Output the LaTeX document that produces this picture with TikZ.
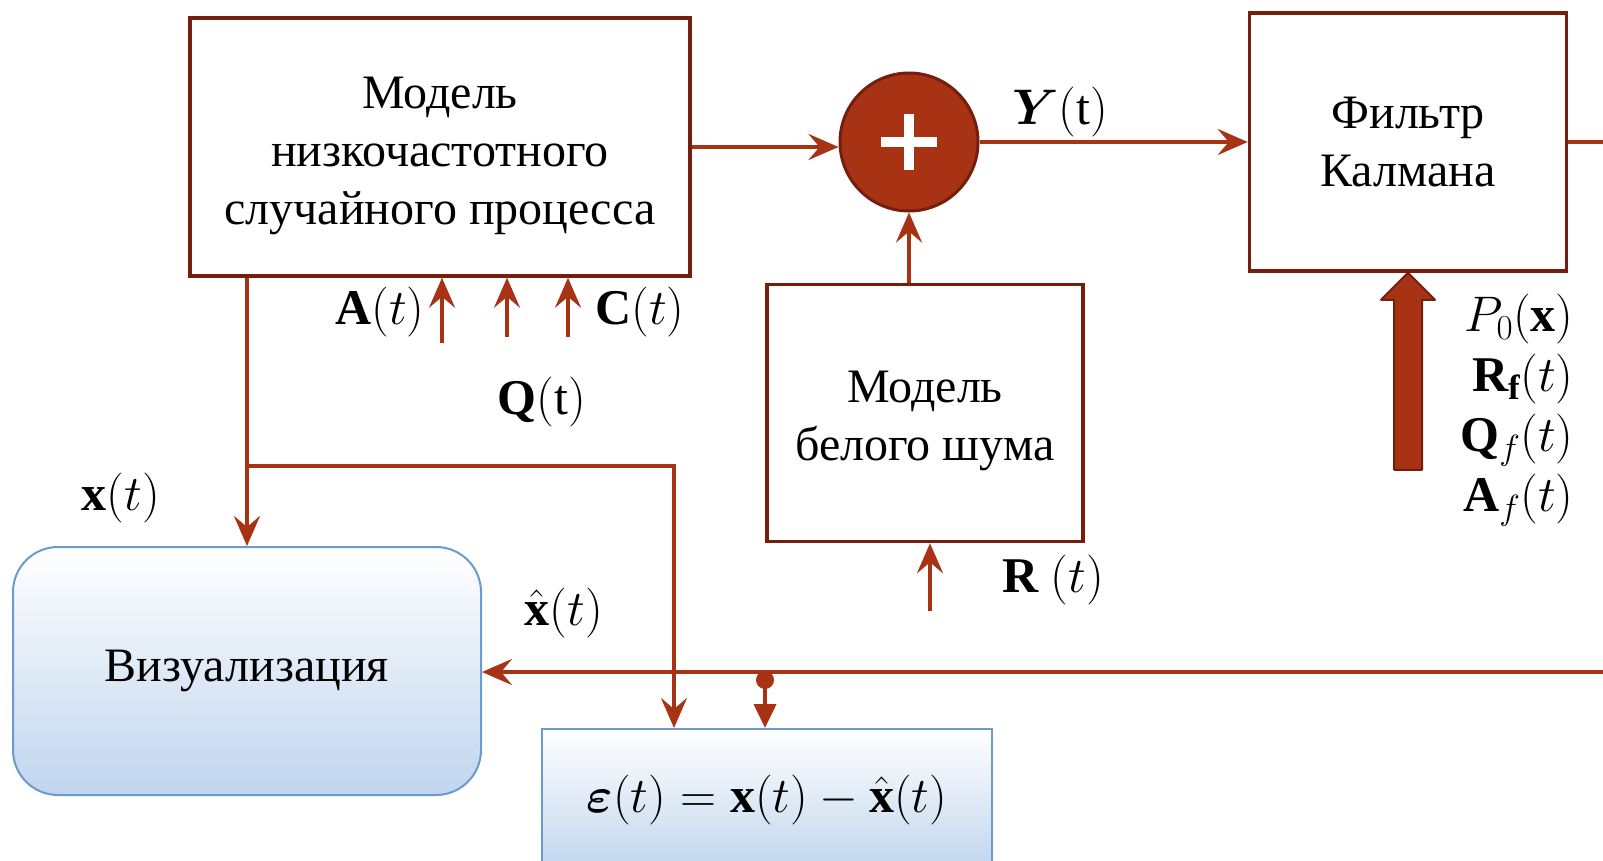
\RequirePackage{fix-cm}
\documentclass[tikz,border=0pt]{standalone}
\usepackage{fontspec}
\setmainfont{Liberation Serif}
\usepackage{amsmath,bm}
\usetikzlibrary{arrows.meta}

\definecolor{linered}{RGB}{168,50,20}
\definecolor{edgebrown}{RGB}{118,30,14}
\definecolor{panelblue}{RGB}{192,213,238}
\definecolor{paneledge}{RGB}{108,154,204}

\newcommand{\diagfont}{\fontsize{48}{58}\selectfont}
\newcommand{\sigfont}{\fontsize{50}{60}\selectfont}

\begin{document}
\begin{tikzpicture}[x=1pt, y=-1pt]

\useasboundingbox (0,0) rectangle (1603,861);
\clip (0,0) rectangle (1603,861);
\fill[white] (0,0) rectangle (1603,861);

\begin{scope}[every node/.style={draw=edgebrown,line width=3.5pt,fill=white,align=center,font=\diagfont,inner sep=0pt}]
    \node (proc) at (440, 147) [minimum width=500pt, minimum height=258pt] {\rule{0pt}{50pt}Модель\\низкочастотного\\случайного процесса};
    \node (kalman) at (1408, 142) [minimum width=317pt, minimum height=258pt] {Фильтр\\Калмана};
    \node (noise) at (925, 413) [minimum width=316pt, minimum height=257pt] {\rule{0pt}{48pt}Модель\\белого шума};
    \node (sum) at (909, 142) [shape=circle, fill=linered, minimum size=138pt, line width=3pt] {};
\end{scope}

\draw[white, line width=10pt] ([xshift=-28pt]sum.center) -- ([xshift=28pt]sum.center)
    ([yshift=-28pt]sum.center) -- ([yshift=28pt]sum.center);

\begin{scope}[every node/.style={draw=paneledge,line width=2pt,top color=white,bottom color=panelblue,align=center,inner sep=0pt}]
    \node (vis) at (247, 671) [rounded corners=45pt, minimum width=468pt, minimum height=248pt, font=\diagfont] {Визуализация};
    \node (eps) at (767, 800) [minimum width=450pt, minimum height=142pt, font=\sigfont] {$\bm{\varepsilon}(t)=\mathbf{x}(t)-\hat{\mathbf{x}}(t)$};
\end{scope}

\begin{scope}[>={Stealth[length=30pt,width=26pt,inset=11pt]},
              every edge/.style={draw=linered,line width=4pt},
              wire/.style={draw=linered,line width=4pt},
              every node/.style={font=\sigfont}]
    \path [->] (proc.east) edge node {} (proc.east -| sum.west);
    \path [->] (sum.east) edge node[pos=0.3, above, inner sep=3pt] {$\bm{Y}(\mathrm{t})$} (kalman.west);
    \path [->] (noise.north -| sum.south) edge node {} (sum.south);

    \coordinate (k-out) at (1603, 142);
    \path (kalman.east) edge (k-out);

    \foreach \pin/\px/\py in {a/442/343, q/507/337, c/568/337} {
        \coordinate (\pin-in) at (\px, \py);
        \path [->] (\pin-in) edge (\pin-in |- proc.south);
    }
    \node (a-label) at (380, 312) {$\mathbf{A}(t)$};
    \node (q-label) at (542, 402) {$\mathbf{Q}(\mathrm{t})$};
    \node (c-label) at (640, 312) {$\mathbf{C}(t)$};

    \coordinate (r-in) at (930, 611);
    \path [->] (r-in) edge (r-in |- noise.south);
    \node (r-label) at (1053, 580) {$\mathbf{R}\ (t)$};

    \coordinate (x-split) at (247, 466);
    \coordinate (x-turn) at (674, 466);
    \path [->] (x-split |- proc.south) edge (vis.north);
    \draw [wire, ->] (x-split) -- (x-turn) -- (x-turn |- eps.north);
    \node (x-label) at (121, 498) {$\mathbf{x}(t)$};

    \coordinate (fb-in) at (1603, 672);
    \path [->] (fb-in) edge (fb-in -| vis.east);
    \node (xhat-label) at (564, 613) {$\hat{\mathbf{x}}(t)$};

    \coordinate (tap) at (765, 680);
    \fill[linered] (tap) circle (9pt);
    \draw [wire, -{Triangle[length=24pt,width=22pt]}] (tap) -- (tap |- eps.north);
\end{scope}

\draw[fill=linered, draw=edgebrown, line width=2pt, line join=round]
    (kalman.south) -- ++(27,27) -- ++(-13,0) -- ++(0,170) -- ++(-28,0) -- ++(0,-170) -- ++(-13,0) -- cycle;

\node (k-params) at (1577, 410) [anchor=east, align=right, font={\fontsize{50}{60}\selectfont}]
    {$P_0(\mathbf{x})$\\$\mathbf{R}_{\mathbf{f}}(t)$\\$\mathbf{Q}_f(t)$\\$\mathbf{A}_f(t)$};

\end{tikzpicture}
\end{document}
